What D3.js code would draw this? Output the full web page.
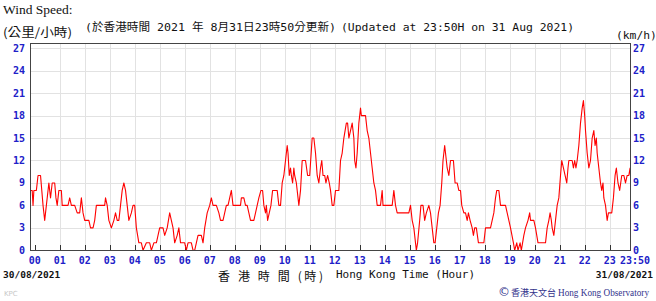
<!DOCTYPE html>
<html>
<head>
<meta charset="utf-8">
<script src="https://d3js.org/d3.v7.min.js"></script>
<style>
  body { margin: 0; background: #fff; }
  .axis-label { font-family: 'DejaVu Sans Mono', monospace; font-size: 10px; font-weight: bold; fill: #2020c8; }
  .mono { font-family: 'DejaVu Sans Mono', 'Noto Sans CJK TC', monospace; font-size: 11.3px; fill: #111; }
  .cjk { font-family: 'Noto Sans CJK TC', sans-serif; fill: #111; }
  .date { font-family: 'DejaVu Sans Mono', monospace; font-size: 9.5px; font-weight: bold; fill: #111; }
</style>
</head>
<body>
<svg id="chart" width="656" height="301"></svg>
<script>
'use strict';

// time of each reading, minutes after 00:00 31/08/2021 (negative = previous evening)
var minutes = [
  -11,-6,-4,-2,4,8,14,20,24,28,34,38,42,48,51,54,58,64,66,80,
  84,88,96,102,108,112,116,120,130,134,140,144,148,168,170,174,178,184,190,194,
  198,202,206,210,214,218,222,226,232,236,240,244,250,256,260,268,276,280,286,292,
  296,300,308,312,318,324,328,332,336,342,346,350,360,364,368,376,380,384,388,392,
  400,404,408,414,420,424,428,436,442,446,452,456,460,464,468,
  472,476,494,496,502,506,510,514,518,526,530,534,538,543,547,550,554,556,559,563,
  567,571,582,586,590,594,598,602,606,608,611,614,616,619,622,624,628,634,638,642,
  650,655,660,666,670,674,678,682,686,689,692,696,699,703,707,710,714,718,722,730,
  734,738,742,748,751,754,758,762,766,768,771,774,778,782,784,794,798,802,806,810,
  814,818,822,830,834,836,858,862,866,870,898,902,906,910,914,916,919,924,927,932,
  936,940,946,
  950,954,958,961,965,969,973,977,980,984,986,990,994,998,1005,1009,1014,1018,1022,1025,
  1030,1034,1038,1041,1045,1050,1053,1056,1060,1065,1078,1082,1094,1098,1102,1106,1109,1114,1118,1130,
  1134,1142,1149,1152,1157,1160,1165,1168,1174,1178,1184,1188,1190,1198,1202,1208,1226,1230,1234,1237,
  1240,1242,1246,1250,1254,1258,1262,1265,1269,1273,1277,1280,1282,1290,1293,1296,1299,1302,1306,1310,
  1314,1317,1320,1322,1326,1330,1334,1338,1342,1345,1348,1350,1354,1358,1361,1364,1366,1370,1374,1377,
  1385,1389,1393,1396,1400,1404,1409,1414,1418,1422,1426,1429,1430
];

// wind speed, km/h
var speeds = [
  8,8,6,8,8,10,10,6,4,6,9,7,9,9,7,6,8,8,6,6,
  7,6,6,5,5,7,5,4,4,3,3,4,6,6,7,6,4,3,4,5,
  4,4,6,8,9,8,6,4,5,6,6,3,1,1,0,1,1,0,1,1,
  2,3,3,2,3,5,4,3,1,2,3,1,1,0,1,1,0,0,1,2,
  2,1,3,5,6,7,6,6,5,4,4,5,6,6,7,
  8,6,6,7,7,6,6,5,4,4,5,6,7,8,8,6,5,6,4,5,
  6,8,8,6,6,9,10,12,14,13,10,11,10,9,11,10,9,6,8,12,
  12,10,10,15,15,13,10,9,11,12,10,10,9,10,9,8,6,6,8,8,
  12,13,15,17,17,15,16,17,15,12,11,13,17,19,18,18,16,15,13,11,
  9,8,6,6,8,6,6,8,6,5,5,6,4,3,1,0,1,4,6,6,
  4,5,6,
  5,3,1,1,3,5,6,9,12,14,13,11,10,12,12,9,9,8,8,6,
  5,5,4,5,4,3,2,3,3,1,1,3,3,4,5,7,8,8,6,6,
  5,3,1,0,1,0,1,0,2,3,4,5,4,4,3,1,1,3,4,5,
  4,3,2,4,6,7,10,12,11,10,9,11,12,12,11,12,11,12,14,17,
  19,20,18,16,13,11,12,15,16,14,15,13,11,9,8,9,7,6,4,5,
  5,7,10,11,9,8,10,10,9,10,10,11,10
];

var yTicks = [0, 3, 6, 9, 12, 15, 18, 21, 24, 27];
var hourLabels = ["00","01","02","03","04","05","06","07","08","09","10","11",
                  "12","13","14","15","16","17","18","19","20","21","22","23"];

var frame = {left: 30, right: 630, top: 43, bottom: 250};

var svg = d3.select("#chart");
svg.append("rect").attr("width", 656).attr("height", 301).attr("fill", "#fff");

var x = d3.scaleLinear().domain([0, 1430]).range([34.7, 630.5]);
var y = d3.scaleLinear().domain([0, 27.7]).range([250.3, 43]);

// grid
var grid = svg.append("g").attr("stroke", "#e2e2e2").attr("stroke-width", 1);
grid.selectAll("line.v")
  .data(d3.range(1, 24))
  .enter().append("line")
  .attr("x1", function(d) { return Math.round(x(d * 60)) + 0.5; })
  .attr("x2", function(d) { return Math.round(x(d * 60)) + 0.5; })
  .attr("y1", frame.top).attr("y2", frame.bottom);
grid.selectAll("line.h")
  .data(yTicks.slice(1))
  .enter().append("line")
  .attr("x1", frame.left).attr("x2", frame.right)
  .attr("y1", function(d) { return Math.round(y(d)) + 0.5; })
  .attr("y2", function(d) { return Math.round(y(d)) + 0.5; });

// hour ticks on bottom axis
svg.append("g").attr("stroke", "#333")
  .selectAll("line")
  .data(d3.range(0, 24))
  .enter().append("line")
  .attr("x1", function(d) { return Math.round(x(d * 60)) + 0.5; })
  .attr("x2", function(d) { return Math.round(x(d * 60)) + 0.5; })
  .attr("y1", frame.bottom - 5).attr("y2", frame.bottom);

// the wind line
svg.append("clipPath").attr("id", "clip")
  .append("rect").attr("x", frame.left).attr("y", frame.top)
  .attr("width", frame.right - frame.left).attr("height", frame.bottom - frame.top);

var line = d3.line()
  .x(function(d, i) { return x(minutes[i]); })
  .y(function(d) { return y(d); });

svg.append("path")
  .datum(speeds)
  .attr("clip-path", "url(#clip)")
  .attr("d", line)
  .attr("fill", "none")
  .attr("stroke", "#f00")
  .attr("stroke-width", 1.1)
  .attr("stroke-linejoin", "round");

// frame
svg.append("rect")
  .attr("x", frame.left + 0.5).attr("y", frame.top + 0.5)
  .attr("width", frame.right - frame.left).attr("height", frame.bottom - frame.top)
  .attr("fill", "none").attr("stroke", "#444").attr("stroke-width", 1);

// y labels both sides
svg.append("g").selectAll("text")
  .data(yTicks).enter().append("text")
  .attr("class", "axis-label")
  .attr("x", 25).attr("y", function(d) { return y(d) + 3.5; })
  .attr("text-anchor", "end")
  .text(function(d) { return d; });
svg.append("g").selectAll("text")
  .data(yTicks).enter().append("text")
  .attr("class", "axis-label")
  .attr("x", 633).attr("y", function(d) { return y(d) + 3.5; })
  .text(function(d) { return d; });

// x labels
svg.append("g").selectAll("text")
  .data(hourLabels).enter().append("text")
  .attr("class", "axis-label")
  .attr("x", function(d, i) { return x(i * 60); })
  .attr("y", 264)
  .attr("text-anchor", "middle")
  .text(function(d) { return d; });
svg.append("text").attr("class", "axis-label")
  .attr("x", 635).attr("y", 264).attr("text-anchor", "middle").text("23:50");

// titles
svg.append("text").attr("x", 3).attr("y", 14)
  .style("font-family", "'Liberation Serif', serif").style("font-size", "13.5px").attr("fill", "#111")
  .text("Wind Speed:");
svg.append("text").attr("class", "cjk").attr("x", 3).attr("y", 37)
  .style("font-size", "12px").attr("textLength", 69).attr("lengthAdjust", "spacingAndGlyphs")
  .text("(公里/小時)");
svg.append("text").attr("class", "mono").attr("x", 85).attr("y", 31)
  .attr("textLength", 251).attr("lengthAdjust", "spacingAndGlyphs")
  .text("(於香港時間 2021 年 8月31日23時50分更新)");
svg.append("text").attr("class", "mono").attr("x", 341).attr("y", 31)
  .attr("textLength", 233).attr("lengthAdjust", "spacingAndGlyphs")
  .text("(Updated at 23:50H on 31 Aug 2021)");
svg.append("text").attr("class", "mono").attr("x", 616).attr("y", 39)
  .text("(km/h)");

// bottom texts
svg.append("text").attr("class", "date").attr("x", 3).attr("y", 278).text("30/08/2021");
svg.append("text").attr("class", "date").attr("x", 653).attr("y", 278)
  .attr("text-anchor", "end").text("31/08/2021");
svg.append("text").attr("class", "cjk").attr("x", 218).attr("y", 281)
  .style("font-size", "12px").attr("fill", "#222")
  .attr("textLength", 105).attr("lengthAdjust", "spacing")
  .text("香 港 時 間 (時)");
svg.append("text").attr("class", "mono").attr("x", 336).attr("y", 278)
  .style("font-size", "11px").attr("fill", "#333")
  .text("Hong Kong Time (Hour)");

svg.append("text").attr("x", 4).attr("y", 296)
  .style("font-family", "'DejaVu Sans', sans-serif").style("font-size", "7px").attr("fill", "#c8c8c8")
  .text("KPC");

// credit line
svg.append("text").attr("x", 498).attr("y", 296).attr("fill", "#33338c")
  .style("font-family", "'DejaVu Sans', sans-serif").style("font-size", "12px").text("©");
svg.append("text").attr("x", 511).attr("y", 296).attr("fill", "#33338c")
  .style("font-family", "'Noto Sans CJK TC', sans-serif").style("font-size", "9px")
  .attr("textLength", 45).attr("lengthAdjust", "spacingAndGlyphs").text("香港天文台");
svg.append("text").attr("x", 558).attr("y", 296).attr("fill", "#33338c")
  .style("font-family", "'Liberation Serif', serif").style("font-size", "10px")
  .attr("textLength", 91).attr("lengthAdjust", "spacingAndGlyphs").text("Hong Kong Observatory");
</script>
</body>
</html>
